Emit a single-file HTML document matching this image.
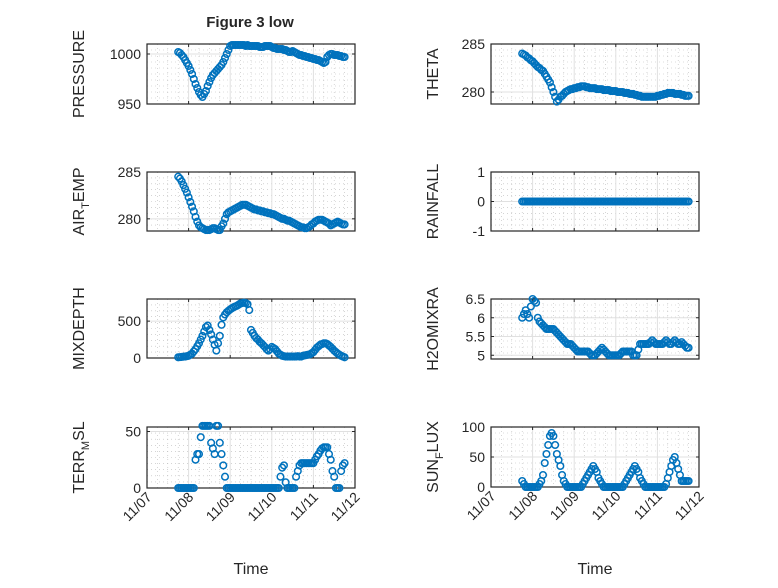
<!DOCTYPE html>
<html><head><meta charset="utf-8"><style>
body{margin:0;background:#fff}
svg text{font-family:"Liberation Sans",sans-serif;fill:#262626}
</style></head><body>
<svg id="fig" width="778" height="583" viewBox="0 0 778 583" xmlns="http://www.w3.org/2000/svg">
<rect width="778" height="583" fill="#fff"/>
<text x="250" y="27" text-anchor="middle" font-size="15" font-weight="bold">Figure 3 low</text>
</svg>
<script>
const pressure=[1002,1001,999,997,994,991,988,984,980,975,970,966,962,959,957,960,963,968,972,976,979,981,983,985,987,989,992,996,1000,1004,1008,1009,1009,1009,1009,1009,1009,1009,1009,1008,1009,1008,1008,1008,1008,1008,1008,1007,1007,1007,1008,1008,1008,1008,1007,1006,1006,1005,1005,1005,1005,1004,1004,1003,1002,1002,1003,1002,1001,1000,999,999,998,998,997,997,996,996,995,995,994,994,993,992,991,992,997,999,1000,1000,999,999,999,998,998,997,997];
const theta=[284,283.9,283.8,283.6,283.5,283.3,283.2,283,282.8,282.6,282.5,282.3,282.2,281.9,281.6,281.3,281,280.5,280,279.5,279,279.2,279.5,279.6,279.8,280,280.1,280.2,280.3,280.3,280.4,280.4,280.5,280.5,280.6,280.6,280.6,280.5,280.5,280.4,280.4,280.4,280.4,280.3,280.3,280.3,280.3,280.2,280.2,280.2,280.2,280.1,280.1,280.1,280.1,280,280,280,280,279.9,279.9,279.9,279.8,279.8,279.8,279.7,279.7,279.6,279.6,279.5,279.5,279.5,279.5,279.5,279.5,279.5,279.5,279.5,279.6,279.6,279.7,279.7,279.8,279.8,279.9,279.9,279.9,279.9,279.8,279.8,279.8,279.8,279.7,279.7,279.6,279.6,279.6];
const airTemp=[284.5,284.3,284,283.6,283.2,282.8,282.3,281.8,281.3,280.8,280.2,279.7,279.3,279.1,279,278.9,278.8,278.8,278.8,278.9,279,279,278.9,278.8,278.8,279.2,279.5,280,280.5,280.7,280.8,280.9,281,281.1,281.2,281.3,281.4,281.5,281.5,281.5,281.4,281.3,281.2,281.1,281,281,280.9,280.9,280.8,280.8,280.7,280.7,280.6,280.6,280.5,280.5,280.4,280.3,280.2,280.1,280,280,279.9,279.8,279.8,279.7,279.6,279.5,279.4,279.3,279.2,279.1,279.1,279,279,279.1,279.2,279.4,279.5,279.7,279.8,279.9,279.9,279.9,279.8,279.7,279.6,279.5,279.3,279.4,279.5,279.6,279.7,279.6,279.5,279.4,279.4];
const rainfall=new Array(97).fill(0);
const mixDepth=[10,12,15,18,20,25,30,45,60,90,120,160,200,250,300,360,420,440,380,320,250,180,100,200,300,450,550,590,620,640,660,675,690,700,710,725,740,745,750,745,730,650,380,340,300,270,250,220,200,175,150,120,100,120,150,135,120,90,60,45,30,25,20,20,20,20,20,20,20,25,20,20,30,35,40,45,50,65,80,110,140,160,180,190,200,200,190,170,150,125,100,80,60,45,30,20,10];
const h2o=[6.0,6.1,6.2,6.1,6.0,6.3,6.5,6.45,6.4,6.0,5.9,5.85,5.8,5.75,5.7,5.7,5.7,5.7,5.7,5.65,5.6,5.55,5.5,5.45,5.4,5.35,5.3,5.3,5.3,5.25,5.2,5.15,5.1,5.1,5.1,5.1,5.1,5.1,5.1,5.05,5.0,5.0,5.0,5.05,5.1,5.15,5.2,5.15,5.1,5.05,5.0,5.0,5.0,5.0,5.0,5.0,5.0,5.05,5.1,5.1,5.1,5.1,5.1,5.1,5.0,5.0,5.0,5.15,5.3,5.3,5.3,5.3,5.3,5.3,5.35,5.4,5.35,5.3,5.3,5.3,5.3,5.3,5.35,5.4,5.35,5.3,5.3,5.35,5.4,5.35,5.3,5.3,5.35,5.3,5.25,5.2,5.2];
const terrMsl=[0,0,0,0,0,0,0,0,0,0,25,30,30,45,55,55,55,55,55,40,35,30,55,55,40,30,20,10,0,0,0,0,0,0,0,0,0,0,0,0,0,0,0,0,0,0,0,0,0,0,0,0,0,0,0,0,0,0,0,10,18,20,5,0,0,0,0,0,10,15,20,22,22,22,22,22,22,22,22,25,28,30,33,35,36,36,36,30,25,15,10,0,0,0,15,20,22];
const sunFlux=[10,5,0,0,0,0,0,0,0,0,5,10,20,40,55,70,85,90,85,70,55,45,35,20,10,5,0,0,0,0,0,0,0,0,0,5,10,15,20,25,30,35,30,25,15,10,5,0,0,0,0,0,0,0,0,0,0,0,0,5,10,15,20,25,30,35,30,25,15,10,5,0,0,0,0,0,0,0,0,0,0,0,0,5,15,25,35,45,50,40,30,20,10,10,10,10,10];
const dayTicks=['11/07','11/08','11/09','11/10','11/11','11/12'];
const tStart=0.75, tStep=1/24;
const NS='http://www.w3.org/2000/svg';
const svg=document.getElementById('fig');
function el(tag,a,p){const e=document.createElementNS(NS,tag);for(const k in a)e.setAttribute(k,a[k]);(p||svg).appendChild(e);return e;}
const panels=[
 {n:'pressure',x:147,y:44,h:60,ymin:950,ymax:1010,ticks:[950,1000],data:pressure,label:['PRESSURE']},
 {n:'theta',x:491,y:44,h:60,ymin:278.75,ymax:285,ticks:[280,285],data:theta,label:['THETA']},
 {n:'air-temp',x:147,y:172,h:59,ymin:278.7,ymax:285,ticks:[280,285],data:airTemp,label:['AIR','T','EMP']},
 {n:'rainfall',x:491,y:172,h:59,ymin:-1,ymax:1,ticks:[-1,0,1],data:rainfall,label:['RAINFALL']},
 {n:'mixdepth',x:147,y:299,h:59,ymin:0,ymax:800,ticks:[0,500],data:mixDepth,label:['MIXDEPTH']},
 {n:'h2omixra',x:491,y:299,h:60,ymin:4.9,ymax:6.5,ticks:[5,5.5,6,6.5],data:h2o,label:['H2OMIXRA']},
 {n:'terr-msl',x:147,y:427,h:61,ymin:0,ymax:54,ticks:[0,50],data:terrMsl,label:['TERR','M','SL']},
 {n:'sun-flux',x:491,y:427,h:60,ymin:0,ymax:100,ticks:[0,50,100],data:sunFlux,label:['SUN','F','LUX']}
];
const W=208, days=5;
panels.forEach((p,pi)=>{
 const g=el('g',{});
 
 
 const xs=t=>p.x+t/days*W;
 const ys=v=>p.y+p.h-(v-p.ymin)/(p.ymax-p.ymin)*p.h;
 for(let d=0;d<days;d++)for(let k=1;k<4;k++){const x=xs(d+k/4);el('line',{x1:x,x2:x,y1:p.y,y2:p.y+p.h,stroke:'#bbb','stroke-width':0.6,'stroke-dasharray':'1 3'},g);}
 for(let k=1;k<10;k++){const y=p.y+p.h*k/10;el('line',{x1:p.x,x2:p.x+W,y1:y,y2:y,stroke:'#bbb','stroke-width':0.6,'stroke-dasharray':'1 3'},g);}
 for(let d=1;d<days;d++){const x=xs(d);el('line',{x1:x,x2:x,y1:p.y,y2:p.y+p.h,stroke:'#e0e0e0','stroke-width':1},g);}
 p.ticks.forEach(v=>{const y=ys(v);if(y>p.y+1&&y<p.y+p.h-1)el('line',{x1:p.x,x2:p.x+W,y1:y,y2:y,stroke:'#e0e0e0','stroke-width':1},g);
  el('line',{x1:p.x,x2:p.x+3,y1:y,y2:y,stroke:'#262626'},g);el('line',{x1:p.x+W-3,x2:p.x+W,y1:y,y2:y,stroke:'#262626'},g);
  const t=el('text',{x:p.x-6,y:y+5,'text-anchor':'end','font-size':14},g);t.textContent=String(v);
  
  });
 for(let d=0;d<=days;d++){const x=xs(d);el('line',{x1:x,x2:x,y1:p.y+p.h,y2:p.y+p.h-3,stroke:'#262626'},g);el('line',{x1:x,x2:x,y1:p.y,y2:p.y+3,stroke:'#262626'},g);}
 el('rect',{x:p.x,y:p.y,width:W,height:p.h,fill:'none',stroke:'#262626','stroke-width':1.2},g);
 p.data.forEach((v,i)=>{const c=el('circle',{cx:xs(tStart+i*tStep),cy:ys(v),r:3.3,fill:'none',stroke:'#0072BD','stroke-width':1.5},g);
  
  });
 const lx=p.x-(pi%2?53:63), ly=p.y+p.h/2;
 const t=el('text',{x:lx,y:ly,'text-anchor':'middle','font-size':16,transform:`rotate(-90 ${lx} ${ly})`},g);
 
 
 if(p.label.length===1)t.textContent=p.label[0];
 else{const a=el('tspan',{},t);a.textContent=p.label[0];const b=el('tspan',{'font-size':11,dy:5},t);b.textContent=p.label[1];const c=el('tspan',{dy:-5},t);c.textContent=p.label[2];}
 if(pi>=6){
  dayTicks.forEach((s,d)=>{const x=xs(d),y=p.y+p.h+10;const tt=el('text',{x:x+4,y:y+4,'text-anchor':'end','font-size':14,transform:`rotate(-45 ${x} ${y})`},g);tt.textContent=s;
   
   });
  const xl=el('text',{x:p.x+W/2,y:574,'text-anchor':'middle','font-size':16},g);xl.textContent='Time';
  
  
 }
});
</script>
</body></html>
